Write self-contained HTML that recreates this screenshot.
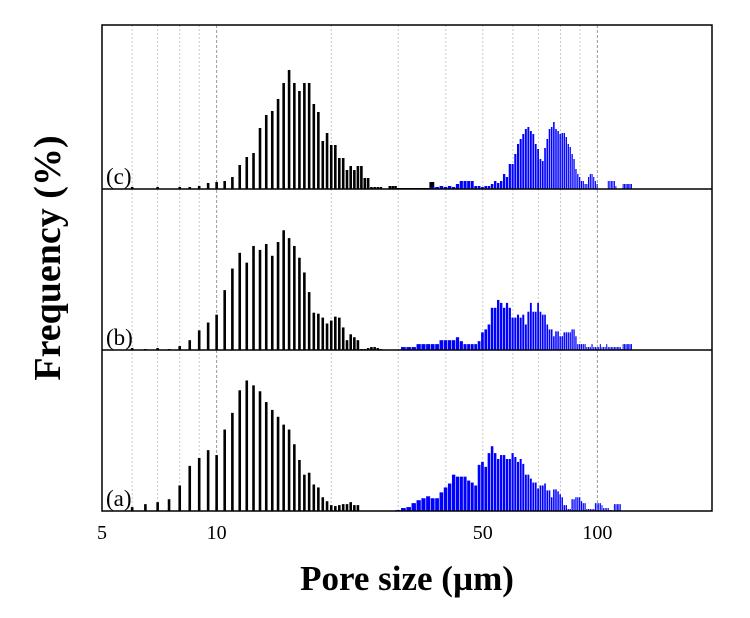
<!DOCTYPE html>
<html><head><meta charset="utf-8">
<style>
body{margin:0;background:#fff;}
svg{display:block;}
text{font-family:"Liberation Serif",serif;}
</style></head>
<body>
<svg id="chart" width="750" height="618" viewBox="0 0 750 618">
  <g id="grid"></g>
  <g id="bars"></g>
  <g id="frame"></g>
  <g id="ticks"></g>
  <text x="407" y="590" text-anchor="middle" font-size="35" font-weight="bold">Pore size (µm)</text>
  <text transform="translate(60,258) rotate(-90)" text-anchor="middle" font-size="38" font-weight="bold">Frequency (%)</text>
</svg>
<script>
// ---- data (frequency, arbitrary units) ----
const tickLabels = [5, 10, 50, 100];
const gridMinor = [6, 7, 8, 9, 20, 30, 40, 50, 60, 70, 80, 90];
const gridMajor = [10, 100];
const panelNames = ["(c)", "(b)", "(a)"];
// black series: bins 0.5 µm starting at 6
const blackStart = 6;
const blackC = [2,0,2,0,2,2,3,6,7,8,12,24,32,36,61,74,78,90,106,119,106,98,106,106,85,77,48,56,44,44,31,31,19,23,19,23,23,11,11,2,2,2,2,0,0,3,3,3,1,1,1,1,1,1,1,1,1,1,1,1,1,7,7];
const blackB = [2,1,2,1,4,10,20,28,36,61,83,99,89,106,102,108,96,110,122,114,106,94,79,59,38,37,33,27,30,34,33,23,10,16,13,10,1,1,2,3,3,2,1];
const blackA = [4,7,9,12,26,46,54,62,57,83,100,123,133,128,122,111,103,96,88,83,68,52,37,39,27,24,14,10,6,5,6,7,7,9,6,6];
// blue series: bins 1 µm
const blueStartC = 37;
const blueC = [2,2,3,2,3,2,5,8,8,8,8,3,3,2,3,3,5,8,6,8,15,12,25,25,35,45,50,55,60,62,58,55,45,40,30,28,41,50,60,62,67,60,58,55,56,56,52,45,42,35,30,20,15,12,8,8,5,5,12,15,15,12,8,5,0,0,0,0,0,0,8,8,8,8,8,3,0,0,0,0,5,5,5,5,5,5,5];
const blueStartB = 31;
const blueB = [3,3,3,6,6,6,6,6,10,10,10,10,13,9,6,6,6,6,9,18,21,26,43,43,51,48,43,48,43,33,33,36,33,36,26,39,48,39,39,48,39,36,36,26,21,21,14,19,19,14,14,18,18,18,18,21,21,14,6,6,6,6,6,3,3,3,6,3,3,3,3,6,3,3,3,6,3,3,3,3,3,3,3,3,3,1,6,6,6,6,6,6,6];
const blueStartA = 30;
const blueA = [1,3,4,8,11,13,15,13,13,19,24,28,37,35,35,35,31,29,26,47,50,45,59,66,59,53,57,57,53,53,59,55,50,53,48,37,37,33,29,29,23,26,26,28,21,21,14,22,22,20,17,14,6,6,2,2,12,12,14,14,14,10,8,8,2,2,2,2,2,8,8,8,8,6,3,3,3,3,1,1,0,7,7,7,7,7];

// ---- layout ----
const X0 = 102, X1 = 712, XMIN = 5, XMAX = 200;
const panels = [
  {top: 25, bottom: 189, black: blackC, blue: blueC, blueStart: blueStartC},
  {top: 189, bottom: 350, black: blackB, blue: blueB, blueStart: blueStartB},
  {top: 350, bottom: 511, black: blackA, blue: blueA, blueStart: blueStartA}
];
const NS = "http://www.w3.org/2000/svg";
function xScale(v){ return X0 + (X1 - X0) * Math.log10(v / XMIN) / Math.log10(XMAX / XMIN); }
function yScale(v, p){ return p.bottom - v * (p.bottom - p.top - 2) / 162; }
function mk(tag, attrs, parent){ const e = document.createElementNS(NS, tag); for (const k in attrs) e.setAttribute(k, attrs[k]); parent.appendChild(e); return e; }

const grid = document.getElementById('grid');
gridMinor.forEach(g => {
  const l = mk('line', {x1: xScale(g), x2: xScale(g), y1: 25, y2: 511, stroke: '#c8c8c8', 'stroke-width': 1, 'stroke-dasharray': '2,2'}, grid);
  
  
});
gridMajor.forEach(g => {
  const l = mk('line', {x1: xScale(g), x2: xScale(g), y1: 25, y2: 511, stroke: '#999', 'stroke-width': 1, 'stroke-dasharray': '3,2'}, grid);
  
  
});

const bars = document.getElementById('bars');
panels.forEach((p, pi) => {
  p.black.forEach((v, i) => {
    if (v <= 0) return;
    const xv = blackStart + i * 0.5;
    const cx = xScale(xv);
    const y = yScale(v, p);
    const r = mk('rect', {x: cx - 1.3, y: y, width: 2.6, height: p.bottom - y, fill: '#000'}, bars);
    
    
  });
  p.blue.forEach((v, i) => {
    if (v <= 0) return;
    const xv = p.blueStart + i;
    const xa = xScale(xv - 0.5), xb = xScale(xv + 0.5);
    const y = yScale(v, p);
    const w = Math.max(1, (xb - xa) - 0.6);
    const r = mk('rect', {x: xa, y: y, width: w, height: p.bottom - y, fill: '#0000ff'}, bars);
    
    
  });
  const t = mk('text', {x: 106, y: p.bottom - 5, 'font-size': 23}, bars);
  t.textContent = panelNames[pi];
  
  
});

const frame = document.getElementById('frame');
const fr = mk('rect', {x: X0, y: 25, width: X1 - X0, height: 486, fill: 'none', stroke: '#000', 'stroke-width': 1.5}, frame);


[189, 350].forEach(yy => {
  const l = mk('line', {x1: X0, x2: X1, y1: yy, y2: yy, stroke: '#000', 'stroke-width': 1.5}, frame);
  
  
});

const ticks = document.getElementById('ticks');
tickLabels.forEach(tv => {
  const t = mk('text', {x: xScale(tv), y: 539, 'text-anchor': 'middle', 'font-size': 20}, ticks);
  t.textContent = String(tv);
  
  
});
</script>
</body></html>
